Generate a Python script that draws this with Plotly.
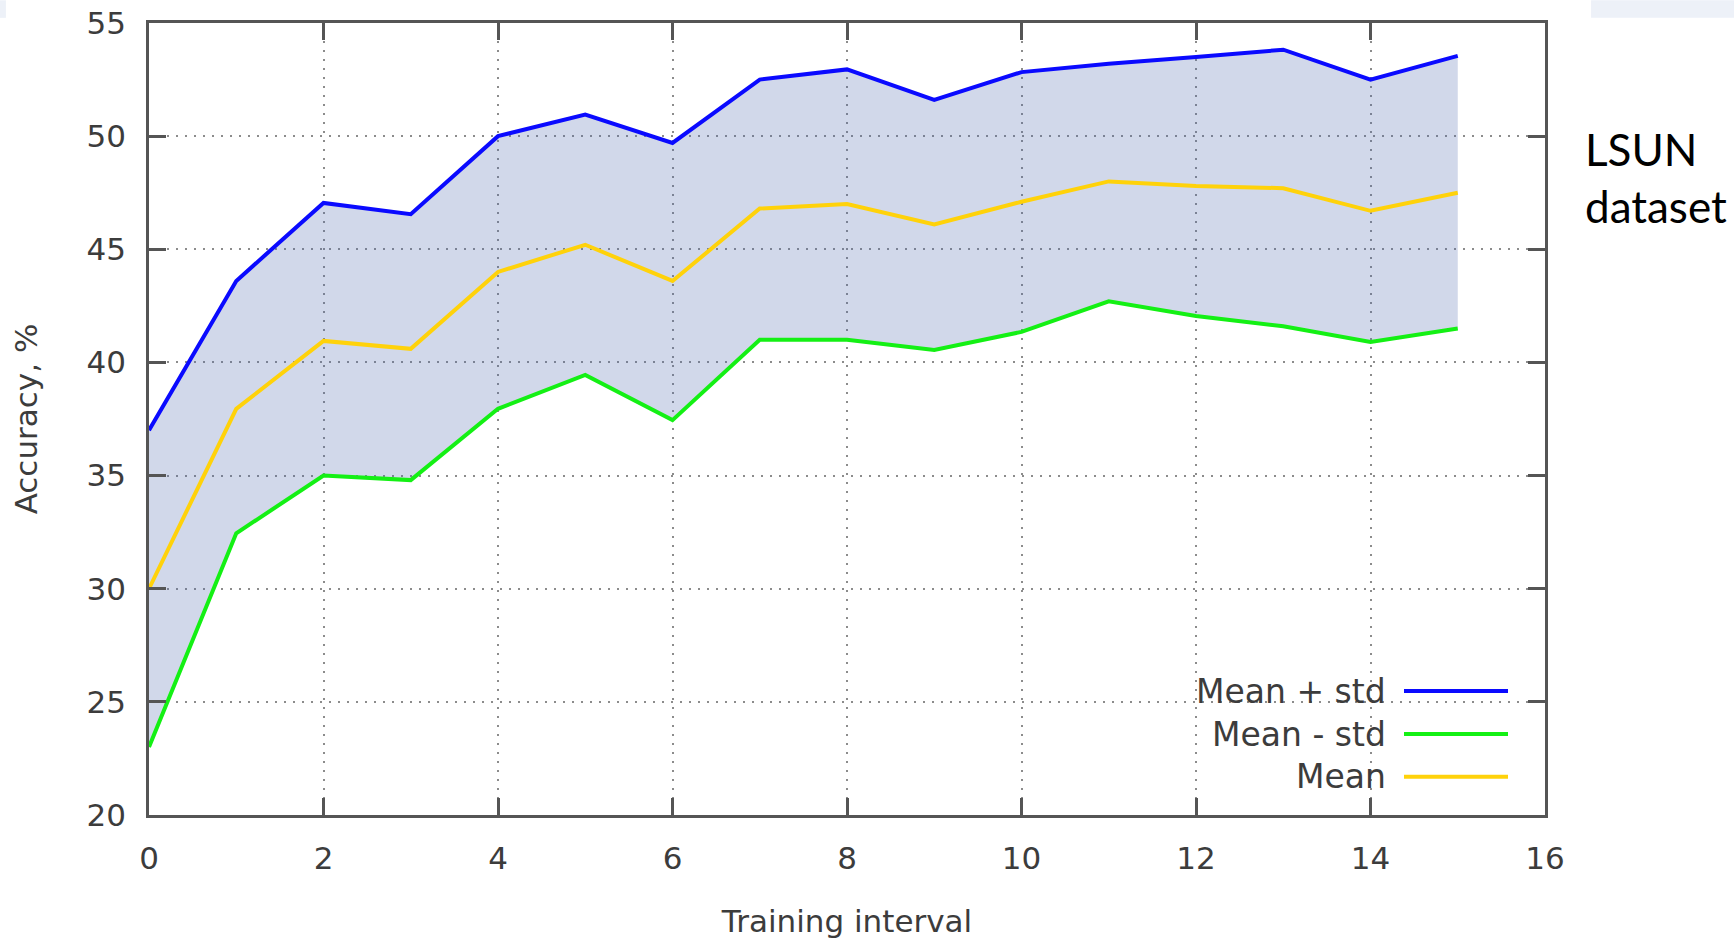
import plotly.graph_objects as go

# ---- data ----
intervals = list(range(16))
mean_plus_std = [37.0, 43.6, 47.05, 46.55, 50.0, 50.95, 49.7, 52.5, 52.95, 51.6, 52.83, 53.2, 53.5, 53.82, 52.5, 53.55]
mean_minus_std = [23.0, 32.45, 35.0, 34.8, 37.95, 39.45, 37.45, 41.0, 41.0, 40.55, 41.35, 42.7, 42.05, 41.6, 40.9, 41.5]
mean_vals = [30.0, 37.95, 40.95, 40.6, 44.0, 45.2, 43.6, 46.8, 47.0, 46.1, 47.1, 48.0, 47.8, 47.7, 46.7, 47.5]

series_names = ["Mean + std", "Mean - std", "Mean"]
series_colors = ["#0a0aff", "#14f014", "#ffd20a"]
x_ticks = [0, 2, 4, 6, 8, 10, 12, 14, 16]
y_ticks = [20, 25, 30, 35, 40, 45, 50, 55]

FONT = "DejaVu Sans"
TXT = "#3c3c3c"

fig = go.Figure()
fig.add_trace(go.Scatter(x=intervals, y=mean_plus_std, mode="lines", name=series_names[0],
                         line=dict(color=series_colors[0], width=4), showlegend=False))
fig.add_trace(go.Scatter(x=intervals, y=mean_minus_std, mode="lines", name=series_names[1],
                         line=dict(color=series_colors[1], width=4), fill="tonexty",
                         fillcolor="rgba(70,100,170,0.25)", showlegend=False))
fig.add_trace(go.Scatter(x=intervals, y=mean_vals, mode="lines", name=series_names[2],
                         line=dict(color=series_colors[2], width=4), showlegend=False))

axis_common = dict(
    showline=True, linecolor="#555555", linewidth=2.5, mirror="allticks",
    ticks="inside", ticklen=17, tickwidth=2.5, tickcolor="#555555",
    showgrid=True, gridcolor="#8c8c8c", gridwidth=1.5, griddash="2px,7px",
    zeroline=False, tickfont=dict(family=FONT, size=31, color=TXT),
    ticklabelstandoff=14, automargin=False,
)

fig.update_xaxes(range=[0, 16], tickvals=x_ticks,
                 title=dict(text="Training interval", font=dict(family=FONT, size=31, color=TXT), standoff=36),
                 **axis_common)
fig.update_yaxes(range=[20, 55], tickvals=y_ticks,
                 title=dict(text="Accuracy, %", font=dict(family=FONT, size=31, color=TXT), standoff=40),
                 **axis_common)

# custom legend: text right-aligned, sample line to the right (gnuplot style)
leg_y = [0.1565, 0.1022, 0.0483]
shapes = []
annotations = []
for name, col, yy in zip(series_names, series_colors, leg_y):
    annotations.append(dict(xref="paper", yref="paper", x=0.8875, y=yy, text=name, showarrow=False,
                            xanchor="right", yanchor="middle",
                            font=dict(family=FONT, size=33, color=TXT)))
    shapes.append(dict(type="line", xref="paper", yref="paper", x0=0.899, x1=0.9735, y0=yy, y1=yy,
                       line=dict(color=col, width=4)))

# side label
annotations.append(dict(xref="paper", yref="paper", x=1.027, y=0.805, text="LSUN<br>dataset",
                        showarrow=False, xanchor="left", yanchor="middle", align="left",
                        font=dict(family="Lato", size=44, color="#000000")))

# faint light-blue slide remnants in top corners
shapes.append(dict(type="rect", xref="paper", yref="paper", x0=1.0330, x1=1.35, y0=1.0065, y1=1.0287,
                   fillcolor="#edf1f8", line=dict(width=0), layer="below"))
shapes.append(dict(type="rect", xref="paper", yref="paper", x0=-0.11, x1=-0.1025, y0=1.0065, y1=1.0287,
                   fillcolor="#edf1f8", line=dict(width=0), layer="below"))

fig.update_layout(
    width=1734, height=941, autosize=False,
    margin=dict(l=149, r=189, t=23, b=126, pad=0),
    plot_bgcolor="white", paper_bgcolor="white",
    shapes=shapes, annotations=annotations,
    font=dict(family=FONT, color=TXT),
)

fig.write_html("out.html", config={"displayModeBar": False})
